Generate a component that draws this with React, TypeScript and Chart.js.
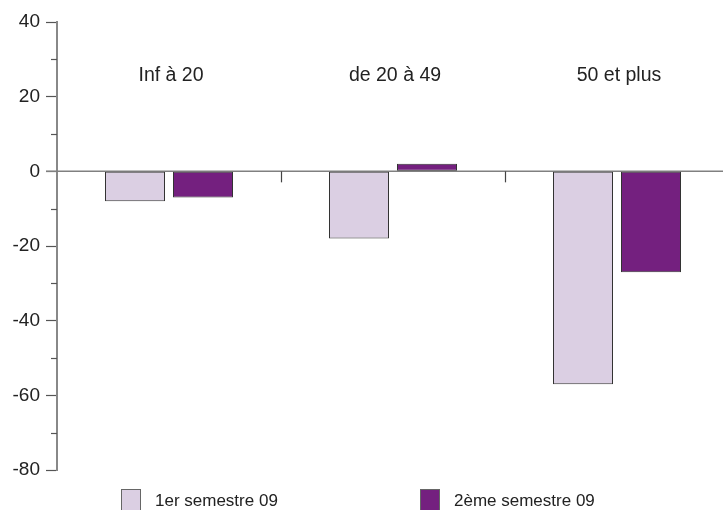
import React, { useEffect, useRef } from "react";
import { Chart, registerables } from "chart.js";

Chart.register(...registerables);

const categories = ["Inf à 20", "de 20 à 49", "50 et plus"];
const seriesNames = ["1er semestre 09", "2ème semestre 09"];
const series1 = [-8, -18, -57];
const series2 = [-7, 2, -27];
const colors = ["#dbcfe3", "#74207f"];
const yMin = -80;
const yMax = 40;
const yStep = 10;
const yLabelStep = 20;

const FONT = "Arial, 'Liberation Sans', Helvetica, sans-serif";

const decoPlugin = {
  id: "deco",
  beforeDatasetsDraw(chart: any) {
    const { ctx, scales, chartArea } = chart;
    const y = scales.y;
    const x = scales.x;
    const y0 = y.getPixelForValue(0);
    ctx.save();
    // zero line
    ctx.strokeStyle = "#808080";
    ctx.lineWidth = 1.5;
    ctx.beginPath();
    ctx.moveTo(chartArea.left - 11, y0);
    ctx.lineTo(chart.width, y0);
    ctx.stroke();
    // category separators
    ctx.strokeStyle = "#444";
    ctx.lineWidth = 1.2;
    for (let i = 0; i < categories.length - 1; i++) {
      const xp = Math.round(x.getPixelForValue(i + 0.5)) + 0.5;
      ctx.beginPath();
      ctx.moveTo(xp, y0);
      ctx.lineTo(xp, y0 + 11);
      ctx.stroke();
    }
    // minor ticks
    ctx.strokeStyle = "#555";
    ctx.lineWidth = 1.2;
    for (let v = yMin; v <= yMax; v += yStep) {
      if (v % yLabelStep === 0) continue;
      const yp = Math.round(y.getPixelForValue(v)) + 0.5;
      ctx.beginPath();
      ctx.moveTo(chartArea.left - 6, yp);
      ctx.lineTo(chartArea.left, yp);
      ctx.stroke();
    }
    ctx.restore();
  },
  afterDraw(chart: any) {
    const { ctx, scales, chartArea } = chart;
    const x = scales.x;
    ctx.save();
    // category labels at top
    ctx.fillStyle = "#222";
    ctx.font = `19.5px ${FONT}`;
    ctx.textAlign = "center";
    ctx.textBaseline = "middle";
    categories.forEach((c, i) => {
      ctx.fillText(c, x.getPixelForValue(i) + 2, 76);
    });
    // legend
    const legendX = [chartArea.left + 64, chartArea.left + 363];
    ctx.font = `17px ${FONT}`;
    ctx.textAlign = "left";
    chart.data.datasets.forEach((ds: any, i: number) => {
      const bx = legendX[i];
      ctx.fillStyle = ds.backgroundColor;
      ctx.fillRect(bx, 489, 19, 24);
      ctx.strokeStyle = "#666";
      ctx.lineWidth = 1;
      ctx.strokeRect(bx + 0.5, 489.5, 19, 24);
      ctx.fillStyle = "#222";
      ctx.fillText(ds.label, bx + 34, 501);
    });
    ctx.restore();
  },
};

export default function App() {
  const ref = useRef<HTMLCanvasElement>(null);
  useEffect(() => {
    if (!ref.current) return;
    const chart = new Chart(ref.current, {
      type: "bar",
      data: {
        labels: categories,
        datasets: [
          {
            label: seriesNames[0],
            data: series1,
            backgroundColor: colors[0],
            borderColor: "#333",
            borderWidth: 1,
            borderSkipped: false,
            barPercentage: 60 / 68,
            categoryPercentage: 136 / 224,
          },
          {
            label: seriesNames[1],
            data: series2,
            backgroundColor: colors[1],
            borderColor: "#333",
            borderWidth: 1,
            borderSkipped: false,
            barPercentage: 60 / 68,
            categoryPercentage: 136 / 224,
          },
        ],
      },
      options: {
        animation: false,
        responsive: false,
        maintainAspectRatio: false,
        layout: { padding: { top: 22, bottom: 40, left: 0, right: 0 } },
        plugins: {
          legend: { display: false },
          tooltip: { enabled: false },
        },
        scales: {
          x: { display: false },
          y: {
            min: yMin,
            max: yMax,
            afterFit(scale: any) {
              scale.width = 57;
            },
            ticks: {
              stepSize: yStep,
              autoSkip: false,
              padding: 6,
              color: "#222",
              font: { family: FONT, size: 19 },
              callback: (v: any) => (Number(v) % yLabelStep === 0 ? String(v) : ""),
            },
            grid: {
              display: true,
              drawOnChartArea: false,
              drawTicks: true,
              tickLength: 11,
              tickWidth: 1.2,
              tickColor: (c: any) =>
                c.tick && c.tick.value % yLabelStep === 0 ? "#555" : "transparent",
            },
            border: { display: true, color: "#888", width: 2 },
          },
        },
      },
      plugins: [decoPlugin],
    });
    return () => chart.destroy();
  }, []);
  return (
    <div
      style={{
        position: "fixed",
        left: 0,
        top: 0,
        width: 723,
        height: 510,
        overflow: "hidden",
        background: "#fff",
      }}
    >
      <canvas ref={ref} width={729} height={510} style={{ display: "block" }} />
    </div>
  );
}
